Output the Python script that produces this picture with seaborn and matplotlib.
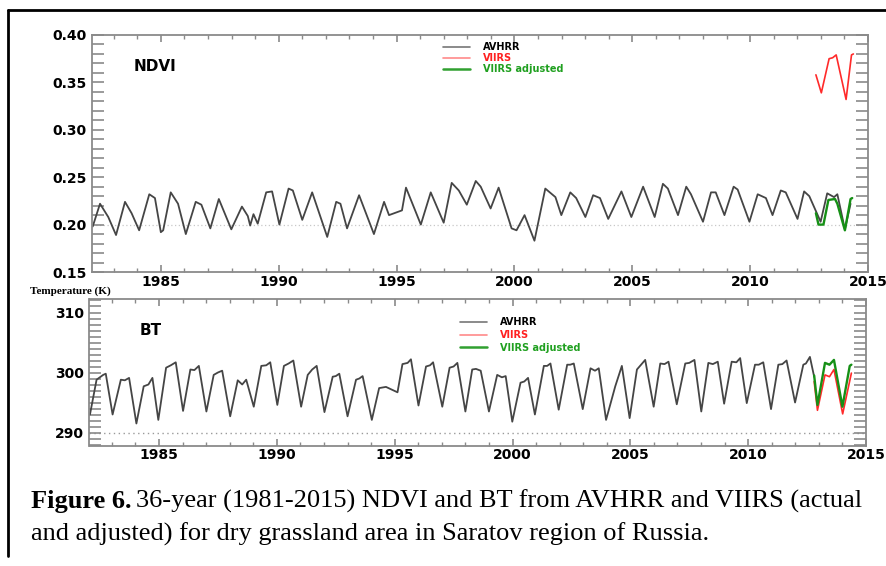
import matplotlib
matplotlib.use("Agg")
import numpy as np
import pandas as pd
import seaborn as sns
from matplotlib import pyplot as plt
from matplotlib.lines import Line2D
from matplotlib.ticker import MultipleLocator, FormatStrFormatter

# ---- NDVI (top panel) ----
ndvi_avhrr_year = [1982.11, 1982.42, 1982.77, 1983.10, 1983.48, 1983.76, 1984.08, 1984.51, 1984.75,
                   1985.00, 1985.10, 1985.42, 1985.73, 1986.06, 1986.48, 1986.72, 1987.10, 1987.46,
                   1987.99, 1988.44, 1988.69, 1988.79, 1988.93, 1989.11, 1989.47, 1989.72, 1990.03,
                   1990.42, 1990.60, 1991.00, 1991.42, 1992.06, 1992.44, 1992.62, 1992.90, 1993.41,
                   1994.04, 1994.47, 1994.68, 1995.23, 1995.40, 1996.03, 1996.45, 1997.00, 1997.34,
                   1997.64, 1997.98, 1998.36, 1998.57, 1998.99, 1999.33, 1999.88, 2000.09, 2000.43,
                   2000.85, 2001.31, 2001.74, 2001.99, 2002.37, 2002.62, 2003.01, 2003.34, 2003.63,
                   2003.98, 2004.54, 2004.96, 2005.46, 2005.95, 2006.30, 2006.51, 2006.94, 2007.29,
                   2007.49, 2008.00, 2008.34, 2008.54, 2008.91, 2009.30, 2009.47, 2009.97, 2010.32,
                   2010.67, 2010.95, 2011.30, 2011.51, 2012.01, 2012.29, 2012.51, 2012.99, 2013.27,
                   2013.56, 2013.70, 2014.02, 2014.26]
ndvi_avhrr = [0.198, 0.222, 0.208, 0.189, 0.224, 0.212, 0.194, 0.232, 0.228,
              0.192, 0.194, 0.234, 0.222, 0.190, 0.224, 0.221, 0.196, 0.227,
              0.195, 0.219, 0.209, 0.199, 0.211, 0.201, 0.234, 0.235, 0.200,
              0.238, 0.236, 0.205, 0.234, 0.187, 0.224, 0.222, 0.196, 0.231,
              0.190, 0.224, 0.210, 0.215, 0.239, 0.200, 0.234, 0.202, 0.244,
              0.236, 0.221, 0.246, 0.240, 0.217, 0.239, 0.196, 0.194, 0.210,
              0.183, 0.238, 0.229, 0.210, 0.234, 0.228, 0.208, 0.231, 0.228,
              0.206, 0.235, 0.208, 0.240, 0.208, 0.243, 0.238, 0.210, 0.240,
              0.232, 0.203, 0.234, 0.234, 0.210, 0.240, 0.237, 0.203, 0.232,
              0.228, 0.210, 0.236, 0.234, 0.206, 0.235, 0.230, 0.203, 0.233,
              0.229, 0.232, 0.195, 0.222]
ndvi_viirs_year = [2012.79, 2013.02, 2013.35, 2013.50, 2013.65, 2014.07, 2014.30, 2014.38]
ndvi_viirs = [0.358, 0.339, 0.375, 0.376, 0.379, 0.332, 0.379, 0.380]
ndvi_adj_year = [2012.79, 2012.90, 2013.11, 2013.32, 2013.60, 2013.70, 2014.02, 2014.26, 2014.33]
ndvi_adj = [0.212, 0.200, 0.200, 0.226, 0.227, 0.222, 0.194, 0.227, 0.228]

# ---- BT (bottom panel) ----
bt_avhrr_year = [1982.07, 1982.35, 1982.63, 1982.74, 1983.03, 1983.38, 1983.55, 1983.73, 1984.04,
                 1984.35, 1984.55, 1984.72, 1984.97, 1985.30, 1985.50, 1985.71, 1986.02, 1986.33,
                 1986.50, 1986.69, 1987.01, 1987.32, 1987.50, 1987.68, 1988.02, 1988.34, 1988.53,
                 1988.70, 1989.02, 1989.34, 1989.55, 1989.72, 1990.02, 1990.30, 1990.50, 1990.70,
                 1991.03, 1991.31, 1991.50, 1991.69, 1992.02, 1992.37, 1992.50, 1992.65, 1993.00,
                 1993.36, 1993.50, 1993.64, 1994.03, 1994.34, 1994.63, 1995.12, 1995.33, 1995.55,
                 1995.69, 1996.01, 1996.33, 1996.50, 1996.63, 1997.02, 1997.33, 1997.50, 1997.66,
                 1998.00, 1998.29, 1998.45, 1998.65, 1999.00, 1999.35, 1999.55, 1999.71, 1999.99,
                 2000.34, 2000.50, 2000.66, 2000.95, 2001.33, 2001.47, 2001.61, 2001.96, 2002.32,
                 2002.45, 2002.60, 2002.98, 2003.31, 2003.50, 2003.66, 2003.97, 2004.36, 2004.64,
                 2004.97, 2005.28, 2005.50, 2005.63, 2005.99, 2006.27, 2006.45, 2006.62, 2006.97,
                 2007.33, 2007.50, 2007.72, 2008.01, 2008.31, 2008.50, 2008.71, 2008.98, 2009.30,
                 2009.50, 2009.66, 2009.94, 2010.29, 2010.45, 2010.64, 2010.97, 2011.28, 2011.45,
                 2011.63, 2011.99, 2012.34, 2012.45, 2012.62, 2012.80]
bt_avhrr = [293.0, 298.8, 299.6, 299.8, 293.0, 298.8, 298.7, 299.1, 291.5,
            297.7, 298.0, 299.1, 292.1, 300.8, 301.2, 301.7, 293.6, 300.5,
            300.4, 301.1, 293.5, 299.6, 300.0, 300.3, 292.7, 298.7, 298.0,
            298.8, 294.3, 301.1, 301.2, 301.7, 294.6, 301.1, 301.5, 302.0,
            294.3, 299.6, 300.5, 301.1, 293.4, 299.3, 299.4, 299.8, 292.7,
            298.8, 299.0, 299.4, 292.1, 297.4, 297.6, 296.7, 301.4, 301.6,
            302.2, 294.5, 301.0, 301.2, 301.7, 294.3, 300.8, 301.0, 301.6,
            293.5, 300.5, 300.6, 300.3, 293.5, 299.6, 299.2, 299.4, 291.8,
            298.3, 298.5, 299.1, 293.0, 301.1, 301.1, 301.5, 293.8, 301.3,
            301.3, 301.5, 293.9, 300.7, 300.3, 300.7, 292.1, 297.7, 301.1,
            292.4, 300.5, 301.5, 302.1, 294.3, 301.5, 301.4, 301.8, 294.7,
            301.5, 301.6, 302.1, 293.5, 301.6, 301.4, 301.8, 294.8, 301.8,
            301.7, 302.4, 294.9, 301.3, 301.3, 301.7, 293.9, 301.3, 301.4,
            302.0, 295.0, 301.3, 301.5, 302.6, 299.3]
bt_viirs_year = [2012.80, 2012.94, 2013.26, 2013.45, 2013.64, 2014.01, 2014.38]
bt_viirs = [298.5, 293.7, 299.6, 299.3, 300.5, 293.1, 299.9]
bt_adj_year = [2012.80, 2012.94, 2013.26, 2013.45, 2013.64, 2014.00, 2014.31, 2014.38]
bt_adj = [299.5, 294.6, 301.6, 301.3, 302.1, 294.3, 301.1, 301.3]

C_AVHRR = "#454545"
C_VIIRS = "#ff2a2a"
C_ADJ = "#169016"


def df_of(x, y):
    return pd.DataFrame({"year": x, "val": y})


def style_axes(ax, ymajor, yminor):
    for s in ax.spines.values():
        s.set_color("#8a8a8a")
        s.set_linewidth(1.3)
    ax.xaxis.set_major_locator(MultipleLocator(5))
    ax.xaxis.set_minor_locator(MultipleLocator(1))
    ax.yaxis.set_major_locator(MultipleLocator(ymajor))
    ax.yaxis.set_minor_locator(MultipleLocator(yminor))
    ax.tick_params(axis="y", which="both", direction="in", left=True, right=True,
                   length=8.5, width=1.2, color="#8a8a8a", pad=4, labelcolor="black")
    ax.tick_params(axis="x", which="major", direction="in", top=True, bottom=True,
                   length=5, width=1.2, color="#8a8a8a", pad=2, labelcolor="black")
    ax.tick_params(axis="x", which="minor", direction="in", top=True, bottom=True,
                   length=3, width=1.0, color="#8a8a8a")
    for lab in ax.get_xticklabels() + ax.get_yticklabels():
        lab.set_fontweight("bold")
        lab.set_fontsize(10)
    ax.set_xlabel("")
    ax.set_ylabel("")
    ax.grid(False)


def add_legend(ax, x0, y0, spacing):
    handles = [Line2D([], [], color="#777777", lw=1.2),
               Line2D([], [], color="#ff8a8a", lw=1.2),
               Line2D([], [], color="#30a030", lw=1.8)]
    leg = ax.legend(handles, ["AVHRR", "VIIRS", "VIIRS adjusted"], loc="upper left",
                    bbox_to_anchor=(x0, y0), frameon=False, borderpad=0, borderaxespad=0,
                    handlelength=2.8, handletextpad=1.3, labelspacing=spacing,
                    prop={"weight": "bold", "size": 7})
    for txt, c in zip(leg.get_texts(), ["black", "#ff2020", "#20a020"]):
        txt.set_color(c)


sns.set_theme(style="white")
plt.rcParams["font.family"] = ["DejaVu Sans"]
plt.rcParams["text.color"] = "black"

fig = plt.figure(figsize=(8.87, 5.66), dpi=100)
W, H = 887, 566
ax1 = fig.add_axes([92 / W, 1 - 272 / H, 776 / W, 237 / H])
ax2 = fig.add_axes([89.5 / W, 1 - 445.7 / H, 776.5 / W, 146.4 / H])

# top panel
ax1.axhline(0.20, color="#c8c8c8", lw=0.9, ls=(0, (1, 2)), zorder=0)
sns.lineplot(data=df_of(ndvi_avhrr_year, ndvi_avhrr), x="year", y="val", ax=ax1,
             color=C_AVHRR, lw=1.3, sort=False)
sns.lineplot(data=df_of(ndvi_viirs_year, ndvi_viirs), x="year", y="val", ax=ax1,
             color=C_VIIRS, lw=1.2, sort=False)
sns.lineplot(data=df_of(ndvi_adj_year, ndvi_adj), x="year", y="val", ax=ax1,
             color=C_ADJ, lw=1.7, sort=False)
ax1.set_xlim(1982.08, 2015.0)
ax1.set_ylim(0.15, 0.40)
style_axes(ax1, 0.05, 0.01)
ax1.yaxis.set_major_formatter(FormatStrFormatter("%.2f"))
ax1.text(0.053, 0.865, "NDVI", transform=ax1.transAxes, fontsize=11, fontweight="bold",
         va="center", ha="left", color="black")
add_legend(ax1, (443 - 92) / 776, (272 - 42) / 237, 0.12)

# bottom panel
ax2.axhline(290, color="#9a9a9a", lw=1.0, ls=(0, (1, 2.5)), zorder=0)
sns.lineplot(data=df_of(bt_avhrr_year, bt_avhrr), x="year", y="val", ax=ax2,
             color=C_AVHRR, lw=1.3, sort=False)
sns.lineplot(data=df_of(bt_viirs_year, bt_viirs), x="year", y="val", ax=ax2,
             color=C_VIIRS, lw=1.2, sort=False)
sns.lineplot(data=df_of(bt_adj_year, bt_adj), x="year", y="val", ax=ax2,
             color=C_ADJ, lw=1.7, sort=False)
ax2.set_xlim(1982.05, 2015.0)
ax2.set_ylim(287.8, 312.2)
style_axes(ax2, 10, 1)
ax2.text(0.065, 0.79, "BT", transform=ax2.transAxes, fontsize=11, fontweight="bold",
         va="center", ha="left", color="black")
add_legend(ax2, (460 - 89.5) / 776.5, (445.7 - 317) / 146.4, 0.3)

fig.text(30 / W, 1 - 291.5 / H, "Temperature (K)", family="Liberation Serif",
         fontweight="bold", fontsize=8, va="center", ha="left")

# frame around the figure
fig.add_artist(Line2D([8 / W, 1.0], [1 - 10 / H, 1 - 10 / H], transform=fig.transFigure,
                      color="black", lw=2))
fig.add_artist(Line2D([8 / W, 8 / W], [1 - 10 / H, 1 - 556 / H], transform=fig.transFigure,
                      color="black", lw=2))

# caption
cap_kw = dict(family="Liberation Serif", fontsize=19, va="baseline", ha="left")
t1 = fig.text(31 / W, 1 - 508 / H, "Figure 6.", fontweight="bold", **cap_kw)
r = fig.canvas.get_renderer()
bb = t1.get_window_extent(renderer=r)
fig.text((bb.x1 + 5) / W, 1 - 508 / H,
         "36-year (1981-2015) NDVI and BT from AVHRR and VIIRS (actual", **cap_kw)
fig.text(31 / W, 1 - 541 / H,
         "and adjusted) for dry grassland area in Saratov region of Russia.", **cap_kw)

fig.savefig("out.png", dpi=100)
